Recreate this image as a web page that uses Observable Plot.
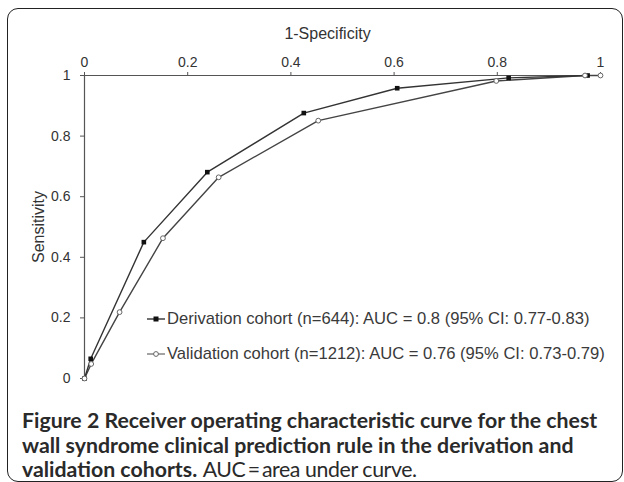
<!DOCTYPE html>
<html>
<head>
<meta charset="utf-8">
<script src="https://cdn.jsdelivr.net/npm/d3@7"></script>
<script src="https://cdn.jsdelivr.net/npm/@observablehq/plot@0.6"></script>
<style>
  html, body { margin: 0; padding: 0; background: #fff; }
  body { width: 624px; height: 482px; position: relative; overflow: hidden; }
  #box { position: absolute; left: 7px; top: 8px; width: 616px; height: 474px;
         border: 1.5px solid #222; border-radius: 11px; box-sizing: border-box; }
  #chart { position: absolute; left: 0; top: 0; }
  #legend { position: absolute; left: 147px; top: 301px; font-family: "Liberation Sans", Arial, sans-serif;
            font-size: 16.6px; color: #3a3a3a; white-space: nowrap; }
  #legend .row { display: flex; align-items: center; height: 35px; }
  #legend svg { margin-right: 2px; }
  #caption { position: absolute; left: 22px; top: 408px; font-family: Lato, "Open Sans", sans-serif;
             font-size: 21.3px; color: #2a2a2a; line-height: 24.5px; white-space: nowrap; }
  #caption .b { font-weight: 700; }
  #caption .reg { font-weight: 400; letter-spacing: -0.4px; }
</style>
</head>
<body>
<div id="box"></div>
<div id="chart"></div>
<div id="legend"></div>
<div id="caption"></div>
<script>
// ---- data ----
const derivFPR  = [0, 0.012, 0.115, 0.238, 0.425, 0.606, 0.822, 0.975];
const derivSens = [0, 0.065, 0.450, 0.681, 0.876, 0.958, 0.992, 1.000];
const validFPR  = [0, 0.013, 0.068, 0.152, 0.260, 0.453, 0.798, 0.970, 1.000];
const validSens = [0, 0.048, 0.219, 0.463, 0.664, 0.851, 0.982, 1.000, 1.000];
const tickValues = [0, 0.2, 0.4, 0.6, 0.8, 1];
const seriesNames = [
  "Derivation cohort (n=644): AUC = 0.8 (95% CI: 0.77-0.83)",
  "Validation cohort (n=1212): AUC = 0.76 (95% CI: 0.73-0.79)"
];
const xLabel = "1-Specificity";
const yLabel = "Sensitivity";
const captionBold = "Figure 2";
const captionLines = [
  "Receiver operating characteristic curve for the chest",
  "wall syndrome clinical prediction rule in the derivation and",
  "validation cohorts."
];
const captionTail = "AUC\u2009=\u2009area under curve.";

const deriv = derivFPR.map((x, i) => ({x, y: derivSens[i]}));
const valid = validFPR.map((x, i) => ({x, y: validSens[i]}));

const fmt = d => String(d);
const plot = Plot.plot({
  width: 624,
  height: 400,
  marginLeft: 84,
  marginRight: 24,
  marginTop: 75,
  marginBottom: 22,
  style: { fontFamily: "'Liberation Sans', Arial, sans-serif", fontSize: "14px", color: "#333", background: "transparent" },
  x: { domain: [0, 1] },
  y: { domain: [0, 1] },
  marks: [
    Plot.axisX({ anchor: "top", ticks: tickValues, tickFormat: fmt, tickSize: 4, tickPadding: 5,
                 label: null, fontSize: 14, stroke: "#555" }),
    Plot.text([xLabel], { frameAnchor: "top", lineAnchor: "middle", dx: -15, dy: -42, fontSize: 16, fill: "#333" }),
    Plot.axisY({ anchor: "left", ticks: tickValues, tickFormat: fmt, tickSize: 4, tickPadding: 10,
                 label: null, fontSize: 14, stroke: "#555" }),
    Plot.axisY({ anchor: "left", ticks: [], tickSize: 0, label: yLabel, labelAnchor: "center",
                 labelArrow: "none", labelOffset: 52, fontSize: 16 }),
    Plot.ruleY([1], { stroke: "#555", strokeWidth: 1.2 }),
    Plot.ruleX([0], { stroke: "#555", strokeWidth: 1.2 }),
    Plot.line(valid, { x: "x", y: "y", stroke: "#444", strokeWidth: 1.4 }),
    Plot.line(deriv, { x: "x", y: "y", stroke: "#333", strokeWidth: 1.4 }),
    Plot.dot(deriv, { x: "x", y: "y", symbol: "square", r: 2.6, fill: "#111", stroke: "none" }),
    Plot.dot(valid, { x: "x", y: "y", r: 2.4, fill: "white", stroke: "#666", strokeWidth: 1 })
  ]
});
document.getElementById("chart").appendChild(plot);

// legend
const legend = document.getElementById("legend");
const symSquare = '<svg width="18" height="10"><line x1="0" y1="5" x2="18" y2="5" stroke="#333" stroke-width="1.4"/><rect x="6.5" y="2.5" width="5" height="5" fill="#111"/></svg>';
const symCircle = '<svg width="18" height="10"><line x1="0" y1="5" x2="18" y2="5" stroke="#666" stroke-width="1.2"/><circle cx="9" cy="5" r="2.4" fill="white" stroke="#666"/></svg>';
[symSquare, symCircle].forEach((s, i) => {
  const row = document.createElement("div");
  row.className = "row";
  row.innerHTML = s + "<span>" + seriesNames[i] + "</span>";
  legend.appendChild(row);
});

// caption
const cap = document.getElementById("caption");
cap.innerHTML = "<span class='b'>" + captionBold + " " + captionLines[0] + "<br>" + captionLines[1] +
  "<br>" + captionLines[2] + "</span> <span class='reg'>" + captionTail + "</span>";
</script>
</body>
</html>
